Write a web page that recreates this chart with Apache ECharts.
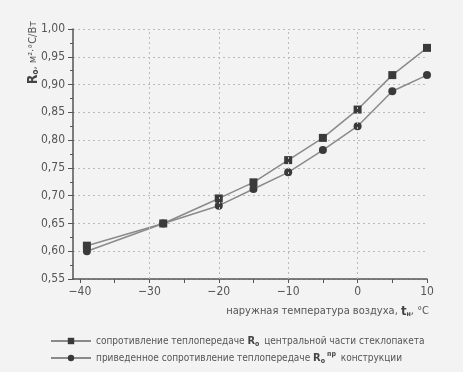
<!DOCTYPE html>
<html><head><meta charset="utf-8">
<script src="https://cdn.jsdelivr.net/npm/echarts@6/dist/echarts.min.js"></script>
<style>html,body{margin:0;padding:0;background:#f3f3f3;}#c{width:463px;height:372px;}</style>
</head><body><div id="c"></div>
<script>
var temps = [-39, -28, -20, -15, -10, -5, 0, 5, 10];
var rCenter = [0.61, 0.65, 0.695, 0.724, 0.764, 0.804, 0.855, 0.917, 0.966];
var rReduced = [0.60, 0.65, 0.682, 0.712, 0.742, 0.782, 0.825, 0.888, 0.917];
var xTickLabels = [-40, -30, -20, -10, 0, 10];
var xTicks = [-40, -35, -30, -25, -20, -15, -10, -5, 0, 5, 10];
var xGridLines = [-30, -20, -10, 0];
var seriesNames = ['сопротивление теплопередаче Ro центральной части стеклопакета', 'приведенное сопротивление теплопередаче Ro пр конструкции'];
var legendRich = [
  'сопротивление теплопередаче {b|R}{s|о} центральной части стеклопакета',
  'приведенное сопротивление теплопередаче {b|R}{s|о}{p|пр} конструкции'
];
var FONT = '"DejaVu Sans Condensed","Liberation Sans Narrow","Roboto",sans-serif';
var TXT = '#555';

function pairs(xs, ys){ return xs.map(function(x,i){return [x, ys[i]];}); }

var chart = echarts.init(document.getElementById('c'), null, {renderer:'canvas'});
chart.setOption({
  backgroundColor: '#f3f3f3',
  animation: false,
  textStyle: {fontFamily: FONT},
  grid: {left: 73, right: 36, top: 29, bottom: 93},
  xAxis: {
    type: 'value', min: -41, max: 10,
    axisLine: {show: true, onZero: false, lineStyle: {color: '#555', width: 1.5}},
    axisTick: {show: true, customValues: xTicks, length: 4, lineStyle: {color: '#555'}},
    axisLabel: {customValues: xTickLabels, color: TXT, fontSize: 12, fontFamily: FONT, margin: 7,
      formatter: function(v){ return (v < 0 ? '\u2212' + Math.abs(v) : String(v)); }},
    splitLine: {show: false}
  },
  yAxis: {
    type: 'value', min: 0.55, max: 1.0, interval: 0.05,
    axisLine: {show: true, onZero: false, lineStyle: {color: '#555', width: 1.5}},
    axisTick: {show: true, length: 5, lineStyle: {color: '#555'}},
    minorTick: {show: true, splitNumber: 2, length: 3, lineStyle: {color: '#555'}},
    axisLabel: {color: TXT, fontSize: 12, fontFamily: FONT, margin: 8,
      formatter: function(v){ return v.toFixed(2).replace('.', ','); }},
    splitLine: {show: true, lineStyle: {color: '#bbb', type: [2, 3], width: 1}}
  },
  legend: {
    orient: 'vertical', left: 50, top: 334, itemGap: 3, padding: 0,
    itemWidth: 40, itemHeight: 8, height: 40,
    data: seriesNames,
    textStyle: {color: TXT, fontSize: 10, fontFamily: FONT, lineHeight: 14,
      rich: {
        b: {fontWeight: 'bold', fontSize: 11, color: '#444', fontFamily: FONT, lineHeight: 14},
        s: {fontWeight: 'bold', fontSize: 7, color: '#444', fontFamily: FONT, lineHeight: 14, verticalAlign: 'bottom', padding: [0, 2, 0, 0]},
        p: {fontWeight: 'bold', fontSize: 7, color: '#444', fontFamily: FONT, lineHeight: 14, verticalAlign: 'top', padding: [0, 2, 0, 0]}
      }},
    formatter: function(name){ return legendRich[seriesNames.indexOf(name)]; }
  },
  graphic: [
    {type: 'text', left: 26, top: 21, rotation: Math.PI/2,
     style: {rich: {
        b: {fontWeight: 'bold', fontSize: 14, fill: '#444', fontFamily: FONT},
        s: {fontWeight: 'bold', fontSize: 8, fill: '#444', fontFamily: FONT, verticalAlign: 'bottom'},
        n: {fontSize: 11, fill: TXT, fontFamily: FONT}
      }, text: '{b|R}{s|о}{n|, м²·°С/Вт}'}},
    {type: 'text', right: 34, top: 305,
     style: {rich: {
        n: {fontSize: 11, fill: TXT, fontFamily: FONT},
        b: {fontWeight: 'bold', fontSize: 13, fill: '#444', fontFamily: FONT},
        s: {fontWeight: 'bold', fontSize: 7, fill: '#444', fontFamily: FONT, verticalAlign: 'bottom'}
      }, text: '{n|наружная температура воздуха, }{b|t}{s|н}{n|, °С}'}}
  ],
  series: [
    {name: seriesNames[0], type: 'line', data: pairs(temps, rCenter),
     symbol: 'rect', symbolSize: 8,
     lineStyle: {color: '#8a8a8a', width: 1.5},
     itemStyle: {color: '#3a3a3a'},
     markLine: {silent: true, symbol: 'none', label: {show: false},
       lineStyle: {color: '#bbb', type: [2, 3], width: 1},
       data: xGridLines.map(function(v){ return {xAxis: v}; })}
    },
    {name: seriesNames[1], type: 'line', data: pairs(temps, rReduced),
     symbol: 'circle', symbolSize: 8,
     lineStyle: {color: '#8a8a8a', width: 1.5},
     itemStyle: {color: '#3a3a3a'}
    }
  ]
});
</script></body></html>
